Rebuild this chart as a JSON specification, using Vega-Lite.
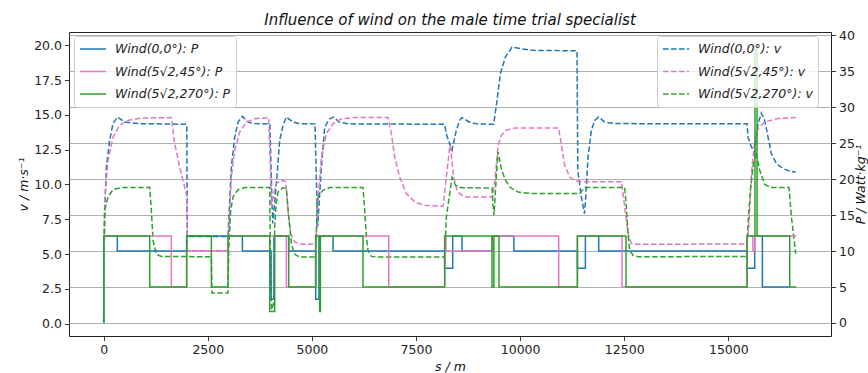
{
  "$schema": "https://vega.github.io/schema/vega-lite/v6.json",
  "width": 762,
  "height": 304,
  "autosize": {"type": "none"},
  "padding": {"left": 69, "top": 32, "right": 37, "bottom": 37},
  "background": "white",
  "title": {"text": "Influence of wind on the male time trial specialist", "font": "DejaVu Sans", "fontSize": 15, "fontStyle": "italic", "fontWeight": "normal", "color": "#111", "anchor": "middle", "frame": "group", "offset": 1},
  "config": {
    "view": {"stroke": "#222", "strokeWidth": 1},
    "axis": {"domain": false, "labelFont": "DejaVu Sans", "labelFontSize": 12.5, "labelColor": "#222", "tickColor": "#222", "tickSize": 4.5, "tickWidth": 0.9, "labelPadding": 3, "titleFont": "DejaVu Sans", "titleFontSize": 12.5, "titleFontStyle": "italic", "titleFontWeight": "normal", "titleColor": "#111"},
    "legend": {"labelFont": "DejaVu Sans", "labelFontSize": 12.5, "labelFontStyle": "italic", "labelColor": "#222", "symbolType": "stroke", "symbolSize": 676, "symbolStrokeWidth": 1.5, "fillColor": "rgba(255,255,255,0.8)", "strokeColor": "#cccccc", "cornerRadius": 3, "padding": 5, "clipHeight": 16, "rowPadding": 6.5, "labelOffset": 8, "orient": "none"}
  },
  "datasets": {
    "P": [
      {"s": 0, "P": 0.1, "w": "Wind(0,0°): P"}, {"s": 1, "P": 12.1, "w": "Wind(0,0°): P"}, {"s": 328, "P": 10, "w": "Wind(0,0°): P"}, {"s": 1993, "P": 12.1, "w": "Wind(0,0°): P"}, {"s": 3331, "P": 10, "w": "Wind(0,0°): P"}, {"s": 4020, "P": 3.3, "w": "Wind(0,0°): P"}, {"s": 4090, "P": 12.1, "w": "Wind(0,0°): P"}, {"s": 4443, "P": 10, "w": "Wind(0,0°): P"}, {"s": 5091, "P": 3.3, "w": "Wind(0,0°): P"}, {"s": 5170, "P": 12.1, "w": "Wind(0,0°): P"}, {"s": 5507, "P": 10, "w": "Wind(0,0°): P"}, {"s": 8189, "P": 7.6, "w": "Wind(0,0°): P"}, {"s": 8381, "P": 12.1, "w": "Wind(0,0°): P"}, {"s": 8605, "P": 10, "w": "Wind(0,0°): P"}, {"s": 9340, "P": 12.1, "w": "Wind(0,0°): P"}, {"s": 9850, "P": 10, "w": "Wind(0,0°): P"}, {"s": 11376, "P": 7.6, "w": "Wind(0,0°): P"}, {"s": 11568, "P": 12.1, "w": "Wind(0,0°): P"}, {"s": 11887, "P": 10, "w": "Wind(0,0°): P"}, {"s": 15450, "P": 7.6, "w": "Wind(0,0°): P"}, {"s": 15634, "P": 12.1, "w": "Wind(0,0°): P"}, {"s": 15818, "P": 5, "w": "Wind(0,0°): P"}, {"s": 16470, "P": 5, "w": "Wind(0,0°): P"},
      {"s": 0, "P": 0.1, "w": "Wind(5√2,45°): P"}, {"s": 1, "P": 12.1, "w": "Wind(5√2,45°): P"}, {"s": 1625, "P": 5, "w": "Wind(5√2,45°): P"}, {"s": 1993, "P": 10, "w": "Wind(5√2,45°): P"}, {"s": 2986, "P": 12.1, "w": "Wind(5√2,45°): P"}, {"s": 4387, "P": 5, "w": "Wind(5√2,45°): P"}, {"s": 5091, "P": 12.1, "w": "Wind(5√2,45°): P"}, {"s": 6845, "P": 5, "w": "Wind(5√2,45°): P"}, {"s": 8189, "P": 12.1, "w": "Wind(5√2,45°): P"}, {"s": 8220, "P": 10, "w": "Wind(5√2,45°): P"}, {"s": 9325, "P": 12.1, "w": "Wind(5√2,45°): P"}, {"s": 10927, "P": 5, "w": "Wind(5√2,45°): P"}, {"s": 11376, "P": 12.1, "w": "Wind(5√2,45°): P"}, {"s": 12447, "P": 5, "w": "Wind(5√2,45°): P"}, {"s": 15450, "P": 12.1, "w": "Wind(5√2,45°): P"}, {"s": 15590, "P": 10, "w": "Wind(5√2,45°): P"}, {"s": 15634, "P": 12.1, "w": "Wind(5√2,45°): P"}, {"s": 16635, "P": 12.1, "w": "Wind(5√2,45°): P"},
      {"s": 0, "P": 0.1, "w": "Wind(5√2,270°): P"}, {"s": 1, "P": 12.1, "w": "Wind(5√2,270°): P"}, {"s": 1105, "P": 5, "w": "Wind(5√2,270°): P"}, {"s": 1993, "P": 12.1, "w": "Wind(5√2,270°): P"}, {"s": 2586, "P": 5, "w": "Wind(5√2,270°): P"}, {"s": 2986, "P": 12.1, "w": "Wind(5√2,270°): P"}, {"s": 3987, "P": 1.6, "w": "Wind(5√2,270°): P"}, {"s": 4107, "P": 12.1, "w": "Wind(5√2,270°): P"}, {"s": 4443, "P": 5, "w": "Wind(5√2,270°): P"}, {"s": 5091, "P": 12.1, "w": "Wind(5√2,270°): P"}, {"s": 5187, "P": 1.6, "w": "Wind(5√2,270°): P"}, {"s": 5205, "P": 12.1, "w": "Wind(5√2,270°): P"}, {"s": 6228, "P": 5, "w": "Wind(5√2,270°): P"}, {"s": 8189, "P": 12.1, "w": "Wind(5√2,270°): P"}, {"s": 9325, "P": 5, "w": "Wind(5√2,270°): P"}, {"s": 9370, "P": 12.1, "w": "Wind(5√2,270°): P"}, {"s": 9494, "P": 5, "w": "Wind(5√2,270°): P"}, {"s": 11376, "P": 12.1, "w": "Wind(5√2,270°): P"}, {"s": 12543, "P": 5, "w": "Wind(5√2,270°): P"}, {"s": 15450, "P": 12.1, "w": "Wind(5√2,270°): P"}, {"s": 15640, "P": 38.5, "w": "Wind(5√2,270°): P"}, {"s": 15690, "P": 12.1, "w": "Wind(5√2,270°): P"}, {"s": 16475, "P": 5, "w": "Wind(5√2,270°): P"}, {"s": 16635, "P": 5, "w": "Wind(5√2,270°): P"}
    ],
    "v": [
      {"s": 0, "v": 0.1, "w": "Wind(0,0°): v"}, {"s": 8, "v": 5, "w": "Wind(0,0°): v"}, {"s": 25, "v": 8, "w": "Wind(0,0°): v"}, {"s": 64, "v": 11.25, "w": "Wind(0,0°): v"}, {"s": 144, "v": 13.2, "w": "Wind(0,0°): v"}, {"s": 224, "v": 14.37, "w": "Wind(0,0°): v"}, {"s": 328, "v": 14.84, "w": "Wind(0,0°): v"}, {"s": 504, "v": 14.48, "w": "Wind(0,0°): v"}, {"s": 824, "v": 14.37, "w": "Wind(0,0°): v"}, {"s": 1995, "v": 14.32, "w": "Wind(0,0°): v"}, {"s": 2008, "v": 6.25, "w": "Wind(0,0°): v"}, {"s": 2986, "v": 6.25, "w": "Wind(0,0°): v"}, {"s": 3026, "v": 8.86, "w": "Wind(0,0°): v"}, {"s": 3066, "v": 11.25, "w": "Wind(0,0°): v"}, {"s": 3146, "v": 13.4, "w": "Wind(0,0°): v"}, {"s": 3226, "v": 14.48, "w": "Wind(0,0°): v"}, {"s": 3331, "v": 14.89, "w": "Wind(0,0°): v"}, {"s": 3466, "v": 14.48, "w": "Wind(0,0°): v"}, {"s": 3626, "v": 14.37, "w": "Wind(0,0°): v"}, {"s": 3990, "v": 14.35, "w": "Wind(0,0°): v"}, {"s": 4030, "v": 10, "w": "Wind(0,0°): v"}, {"s": 4060, "v": 7.2, "w": "Wind(0,0°): v"}, {"s": 4100, "v": 8.5, "w": "Wind(0,0°): v"}, {"s": 4147, "v": 10.06, "w": "Wind(0,0°): v"}, {"s": 4227, "v": 13.17, "w": "Wind(0,0°): v"}, {"s": 4307, "v": 14.25, "w": "Wind(0,0°): v"}, {"s": 4387, "v": 14.84, "w": "Wind(0,0°): v"}, {"s": 4546, "v": 14.48, "w": "Wind(0,0°): v"}, {"s": 4700, "v": 14.37, "w": "Wind(0,0°): v"}, {"s": 5075, "v": 14.35, "w": "Wind(0,0°): v"}, {"s": 5110, "v": 10, "w": "Wind(0,0°): v"}, {"s": 5140, "v": 7, "w": "Wind(0,0°): v"}, {"s": 5180, "v": 9, "w": "Wind(0,0°): v"}, {"s": 5228, "v": 11.25, "w": "Wind(0,0°): v"}, {"s": 5307, "v": 14.1, "w": "Wind(0,0°): v"}, {"s": 5420, "v": 14.7, "w": "Wind(0,0°): v"}, {"s": 5520, "v": 14.84, "w": "Wind(0,0°): v"}, {"s": 5650, "v": 14.48, "w": "Wind(0,0°): v"}, {"s": 5900, "v": 14.35, "w": "Wind(0,0°): v"}, {"s": 8189, "v": 14.32, "w": "Wind(0,0°): v"}, {"s": 8229, "v": 13.6, "w": "Wind(0,0°): v"}, {"s": 8309, "v": 12.93, "w": "Wind(0,0°): v"}, {"s": 8365, "v": 12.45, "w": "Wind(0,0°): v"}, {"s": 8469, "v": 13.9, "w": "Wind(0,0°): v"}, {"s": 8549, "v": 14.6, "w": "Wind(0,0°): v"}, {"s": 8605, "v": 14.8, "w": "Wind(0,0°): v"}, {"s": 8800, "v": 14.45, "w": "Wind(0,0°): v"}, {"s": 8965, "v": 14.35, "w": "Wind(0,0°): v"}, {"s": 9366, "v": 14.32, "w": "Wind(0,0°): v"}, {"s": 9446, "v": 16.04, "w": "Wind(0,0°): v"}, {"s": 9527, "v": 17.96, "w": "Wind(0,0°): v"}, {"s": 9647, "v": 19.15, "w": "Wind(0,0°): v"}, {"s": 9806, "v": 19.87, "w": "Wind(0,0°): v"}, {"s": 10007, "v": 19.75, "w": "Wind(0,0°): v"}, {"s": 10327, "v": 19.63, "w": "Wind(0,0°): v"}, {"s": 11367, "v": 19.6, "w": "Wind(0,0°): v"}, {"s": 11385, "v": 11, "w": "Wind(0,0°): v"}, {"s": 11460, "v": 9.3, "w": "Wind(0,0°): v"}, {"s": 11545, "v": 7.9, "w": "Wind(0,0°): v"}, {"s": 11570, "v": 8.8, "w": "Wind(0,0°): v"}, {"s": 11632, "v": 11.97, "w": "Wind(0,0°): v"}, {"s": 11712, "v": 13.9, "w": "Wind(0,0°): v"}, {"s": 11792, "v": 14.6, "w": "Wind(0,0°): v"}, {"s": 11887, "v": 14.84, "w": "Wind(0,0°): v"}, {"s": 12032, "v": 14.48, "w": "Wind(0,0°): v"}, {"s": 12272, "v": 14.37, "w": "Wind(0,0°): v"}, {"s": 15450, "v": 14.35, "w": "Wind(0,0°): v"}, {"s": 15474, "v": 13.4, "w": "Wind(0,0°): v"}, {"s": 15554, "v": 12.69, "w": "Wind(0,0°): v"}, {"s": 15634, "v": 12.33, "w": "Wind(0,0°): v"}, {"s": 15714, "v": 14.37, "w": "Wind(0,0°): v"}, {"s": 15794, "v": 15.13, "w": "Wind(0,0°): v"}, {"s": 15874, "v": 14.6, "w": "Wind(0,0°): v"}, {"s": 15954, "v": 13.4, "w": "Wind(0,0°): v"}, {"s": 16035, "v": 12.2, "w": "Wind(0,0°): v"}, {"s": 16155, "v": 11.5, "w": "Wind(0,0°): v"}, {"s": 16314, "v": 11.13, "w": "Wind(0,0°): v"}, {"s": 16474, "v": 10.96, "w": "Wind(0,0°): v"}, {"s": 16619, "v": 10.89, "w": "Wind(0,0°): v"},
      {"s": 0, "v": 0.1, "w": "Wind(5√2,45°): v"}, {"s": 8, "v": 5, "w": "Wind(5√2,45°): v"}, {"s": 24, "v": 8.86, "w": "Wind(5√2,45°): v"}, {"s": 104, "v": 11.73, "w": "Wind(5√2,45°): v"}, {"s": 224, "v": 13.4, "w": "Wind(5√2,45°): v"}, {"s": 384, "v": 14.25, "w": "Wind(5√2,45°): v"}, {"s": 584, "v": 14.6, "w": "Wind(5√2,45°): v"}, {"s": 904, "v": 14.77, "w": "Wind(5√2,45°): v"}, {"s": 1625, "v": 14.8, "w": "Wind(5√2,45°): v"}, {"s": 1705, "v": 12.93, "w": "Wind(5√2,45°): v"}, {"s": 1825, "v": 11.25, "w": "Wind(5√2,45°): v"}, {"s": 1945, "v": 9.81, "w": "Wind(5√2,45°): v"}, {"s": 1993, "v": 9.2, "w": "Wind(5√2,45°): v"}, {"s": 2005, "v": 5.24, "w": "Wind(5√2,45°): v"}, {"s": 2986, "v": 5.24, "w": "Wind(5√2,45°): v"}, {"s": 3026, "v": 8.14, "w": "Wind(5√2,45°): v"}, {"s": 3066, "v": 10.53, "w": "Wind(5√2,45°): v"}, {"s": 3146, "v": 12.45, "w": "Wind(5√2,45°): v"}, {"s": 3266, "v": 13.76, "w": "Wind(5√2,45°): v"}, {"s": 3426, "v": 14.48, "w": "Wind(5√2,45°): v"}, {"s": 3626, "v": 14.72, "w": "Wind(5√2,45°): v"}, {"s": 3962, "v": 14.8, "w": "Wind(5√2,45°): v"}, {"s": 3995, "v": 12, "w": "Wind(5√2,45°): v"}, {"s": 4030, "v": 8.3, "w": "Wind(5√2,45°): v"}, {"s": 4080, "v": 9.3, "w": "Wind(5√2,45°): v"}, {"s": 4147, "v": 10.06, "w": "Wind(5√2,45°): v"}, {"s": 4250, "v": 10.3, "w": "Wind(5√2,45°): v"}, {"s": 4370, "v": 10.2, "w": "Wind(5√2,45°): v"}, {"s": 4427, "v": 8.14, "w": "Wind(5√2,45°): v"}, {"s": 4491, "v": 6.47, "w": "Wind(5√2,45°): v"}, {"s": 4587, "v": 5.86, "w": "Wind(5√2,45°): v"}, {"s": 4747, "v": 5.7, "w": "Wind(5√2,45°): v"}, {"s": 5091, "v": 5.7, "w": "Wind(5√2,45°): v"}, {"s": 5147, "v": 8.86, "w": "Wind(5√2,45°): v"}, {"s": 5228, "v": 11.97, "w": "Wind(5√2,45°): v"}, {"s": 5348, "v": 13.65, "w": "Wind(5√2,45°): v"}, {"s": 5507, "v": 14.37, "w": "Wind(5√2,45°): v"}, {"s": 5700, "v": 14.7, "w": "Wind(5√2,45°): v"}, {"s": 6000, "v": 14.8, "w": "Wind(5√2,45°): v"}, {"s": 6828, "v": 14.8, "w": "Wind(5√2,45°): v"}, {"s": 6908, "v": 13.65, "w": "Wind(5√2,45°): v"}, {"s": 6988, "v": 11.97, "w": "Wind(5√2,45°): v"}, {"s": 7108, "v": 10.53, "w": "Wind(5√2,45°): v"}, {"s": 7269, "v": 9.34, "w": "Wind(5√2,45°): v"}, {"s": 7469, "v": 8.74, "w": "Wind(5√2,45°): v"}, {"s": 7709, "v": 8.5, "w": "Wind(5√2,45°): v"}, {"s": 8149, "v": 8.43, "w": "Wind(5√2,45°): v"}, {"s": 8229, "v": 10.53, "w": "Wind(5√2,45°): v"}, {"s": 8309, "v": 12.69, "w": "Wind(5√2,45°): v"}, {"s": 8326, "v": 12.8, "w": "Wind(5√2,45°): v"}, {"s": 8405, "v": 10.53, "w": "Wind(5√2,45°): v"}, {"s": 8485, "v": 9.58, "w": "Wind(5√2,45°): v"}, {"s": 8549, "v": 9.34, "w": "Wind(5√2,45°): v"}, {"s": 8670, "v": 9.1, "w": "Wind(5√2,45°): v"}, {"s": 9342, "v": 9.1, "w": "Wind(5√2,45°): v"}, {"s": 9407, "v": 10.65, "w": "Wind(5√2,45°): v"}, {"s": 9470, "v": 12.8, "w": "Wind(5√2,45°): v"}, {"s": 9550, "v": 13.53, "w": "Wind(5√2,45°): v"}, {"s": 9670, "v": 13.9, "w": "Wind(5√2,45°): v"}, {"s": 9870, "v": 14.05, "w": "Wind(5√2,45°): v"}, {"s": 10927, "v": 14.05, "w": "Wind(5√2,45°): v"}, {"s": 10991, "v": 12.8, "w": "Wind(5√2,45°): v"}, {"s": 11071, "v": 11.37, "w": "Wind(5√2,45°): v"}, {"s": 11191, "v": 10.53, "w": "Wind(5√2,45°): v"}, {"s": 11352, "v": 10.22, "w": "Wind(5√2,45°): v"}, {"s": 11500, "v": 10.2, "w": "Wind(5√2,45°): v"}, {"s": 12432, "v": 10.2, "w": "Wind(5√2,45°): v"}, {"s": 12512, "v": 8.38, "w": "Wind(5√2,45°): v"}, {"s": 12592, "v": 6.47, "w": "Wind(5√2,45°): v"}, {"s": 12672, "v": 5.75, "w": "Wind(5√2,45°): v"}, {"s": 12800, "v": 5.7, "w": "Wind(5√2,45°): v"}, {"s": 15450, "v": 5.72, "w": "Wind(5√2,45°): v"}, {"s": 15498, "v": 7.18, "w": "Wind(5√2,45°): v"}, {"s": 15554, "v": 10.78, "w": "Wind(5√2,45°): v"}, {"s": 15634, "v": 13.17, "w": "Wind(5√2,45°): v"}, {"s": 15714, "v": 14.0, "w": "Wind(5√2,45°): v"}, {"s": 15874, "v": 14.48, "w": "Wind(5√2,45°): v"}, {"s": 16155, "v": 14.72, "w": "Wind(5√2,45°): v"}, {"s": 16619, "v": 14.8, "w": "Wind(5√2,45°): v"},
      {"s": 0, "v": 0.1, "w": "Wind(5√2,270°): v"}, {"s": 8, "v": 4, "w": "Wind(5√2,270°): v"}, {"s": 24, "v": 8.14, "w": "Wind(5√2,270°): v"}, {"s": 104, "v": 9.1, "w": "Wind(5√2,270°): v"}, {"s": 224, "v": 9.63, "w": "Wind(5√2,270°): v"}, {"s": 424, "v": 9.77, "w": "Wind(5√2,270°): v"}, {"s": 1105, "v": 9.79, "w": "Wind(5√2,270°): v"}, {"s": 1145, "v": 8.14, "w": "Wind(5√2,270°): v"}, {"s": 1185, "v": 5.98, "w": "Wind(5√2,270°): v"}, {"s": 1265, "v": 4.98, "w": "Wind(5√2,270°): v"}, {"s": 1385, "v": 4.83, "w": "Wind(5√2,270°): v"}, {"s": 2586, "v": 4.8, "w": "Wind(5√2,270°): v"}, {"s": 2600, "v": 2.2, "w": "Wind(5√2,270°): v"}, {"s": 2986, "v": 2.2, "w": "Wind(5√2,270°): v"}, {"s": 3002, "v": 5.27, "w": "Wind(5√2,270°): v"}, {"s": 3050, "v": 8.14, "w": "Wind(5√2,270°): v"}, {"s": 3106, "v": 9.1, "w": "Wind(5√2,270°): v"}, {"s": 3226, "v": 9.63, "w": "Wind(5√2,270°): v"}, {"s": 3386, "v": 9.77, "w": "Wind(5√2,270°): v"}, {"s": 3987, "v": 9.77, "w": "Wind(5√2,270°): v"}, {"s": 4005, "v": 4, "w": "Wind(5√2,270°): v"}, {"s": 4030, "v": 1.0, "w": "Wind(5√2,270°): v"}, {"s": 4085, "v": 1.5, "w": "Wind(5√2,270°): v"}, {"s": 4107, "v": 7, "w": "Wind(5√2,270°): v"}, {"s": 4140, "v": 8.6, "w": "Wind(5√2,270°): v"}, {"s": 4186, "v": 9.45, "w": "Wind(5√2,270°): v"}, {"s": 4307, "v": 9.77, "w": "Wind(5√2,270°): v"}, {"s": 4387, "v": 9.7, "w": "Wind(5√2,270°): v"}, {"s": 4443, "v": 7.66, "w": "Wind(5√2,270°): v"}, {"s": 4507, "v": 5.75, "w": "Wind(5√2,270°): v"}, {"s": 4587, "v": 4.98, "w": "Wind(5√2,270°): v"}, {"s": 4707, "v": 4.78, "w": "Wind(5√2,270°): v"}, {"s": 5091, "v": 4.78, "w": "Wind(5√2,270°): v"}, {"s": 5131, "v": 8.86, "w": "Wind(5√2,270°): v"}, {"s": 5163, "v": 9.22, "w": "Wind(5√2,270°): v"}, {"s": 5267, "v": 9.58, "w": "Wind(5√2,270°): v"}, {"s": 5427, "v": 9.77, "w": "Wind(5√2,270°): v"}, {"s": 6228, "v": 9.77, "w": "Wind(5√2,270°): v"}, {"s": 6268, "v": 8.14, "w": "Wind(5√2,270°): v"}, {"s": 6308, "v": 6.22, "w": "Wind(5√2,270°): v"}, {"s": 6348, "v": 5.27, "w": "Wind(5√2,270°): v"}, {"s": 6428, "v": 4.83, "w": "Wind(5√2,270°): v"}, {"s": 6600, "v": 4.78, "w": "Wind(5√2,270°): v"}, {"s": 8189, "v": 4.78, "w": "Wind(5√2,270°): v"}, {"s": 8229, "v": 7.66, "w": "Wind(5√2,270°): v"}, {"s": 8309, "v": 9.34, "w": "Wind(5√2,270°): v"}, {"s": 8365, "v": 10.5, "w": "Wind(5√2,270°): v"}, {"s": 8445, "v": 9.94, "w": "Wind(5√2,270°): v"}, {"s": 8565, "v": 9.77, "w": "Wind(5√2,270°): v"}, {"s": 9325, "v": 9.74, "w": "Wind(5√2,270°): v"}, {"s": 9350, "v": 8.5, "w": "Wind(5√2,270°): v"}, {"s": 9373, "v": 7.78, "w": "Wind(5√2,270°): v"}, {"s": 9430, "v": 10.65, "w": "Wind(5√2,270°): v"}, {"s": 9470, "v": 12.33, "w": "Wind(5√2,270°): v"}, {"s": 9550, "v": 11.13, "w": "Wind(5√2,270°): v"}, {"s": 9630, "v": 10.42, "w": "Wind(5√2,270°): v"}, {"s": 9750, "v": 9.81, "w": "Wind(5√2,270°): v"}, {"s": 9950, "v": 9.45, "w": "Wind(5√2,270°): v"}, {"s": 10271, "v": 9.34, "w": "Wind(5√2,270°): v"}, {"s": 11431, "v": 9.34, "w": "Wind(5√2,270°): v"}, {"s": 11500, "v": 9.6, "w": "Wind(5√2,270°): v"}, {"s": 11560, "v": 9.77, "w": "Wind(5√2,270°): v"}, {"s": 12512, "v": 9.77, "w": "Wind(5√2,270°): v"}, {"s": 12552, "v": 8.38, "w": "Wind(5√2,270°): v"}, {"s": 12592, "v": 6.47, "w": "Wind(5√2,270°): v"}, {"s": 12632, "v": 5.27, "w": "Wind(5√2,270°): v"}, {"s": 12712, "v": 4.91, "w": "Wind(5√2,270°): v"}, {"s": 12850, "v": 4.8, "w": "Wind(5√2,270°): v"}, {"s": 15434, "v": 4.83, "w": "Wind(5√2,270°): v"}, {"s": 15474, "v": 7.18, "w": "Wind(5√2,270°): v"}, {"s": 15530, "v": 9.58, "w": "Wind(5√2,270°): v"}, {"s": 15594, "v": 11.25, "w": "Wind(5√2,270°): v"}, {"s": 15658, "v": 12.33, "w": "Wind(5√2,270°): v"}, {"s": 15754, "v": 11.01, "w": "Wind(5√2,270°): v"}, {"s": 15874, "v": 10.0, "w": "Wind(5√2,270°): v"}, {"s": 16035, "v": 9.77, "w": "Wind(5√2,270°): v"}, {"s": 16458, "v": 9.77, "w": "Wind(5√2,270°): v"}, {"s": 16515, "v": 7.66, "w": "Wind(5√2,270°): v"}, {"s": 16619, "v": 5.03, "w": "Wind(5√2,270°): v"}
    ]
  },
  "layer": [
    {
      "data": {"name": "v"},
      "mark": {"type": "line", "strokeWidth": 1.5, "strokeDash": [5.5, 2.5], "clip": true},
      "encoding": {
        "x": {"field": "s", "type": "quantitative", "scale": {"domain": [-833, 17466], "nice": false, "zero": false}, "axis": {"title": "s / m", "values": [0, 2500, 5000, 7500, 10000, 12500, 15000], "format": "d", "grid": false, "titlePadding": 4}},
        "y": {"field": "v", "type": "quantitative", "scale": {"domain": [-0.89, 20.95], "nice": false, "zero": false}, "axis": {"orient": "left", "title": "v / m·s⁻¹", "values": [0, 2.5, 5, 7.5, 10, 12.5, 15, 17.5, 20], "format": ".1f", "grid": false, "titlePadding": 3}},
        "color": {"field": "w", "type": "nominal", "scale": {"domain": ["Wind(0,0°): v", "Wind(5√2,45°): v", "Wind(5√2,270°): v"], "range": ["#1f77b4", "#e377c2", "#2ca02c"]}, "legend": {"title": null, "legendX": 588, "legendY": 4, "symbolDash": [5.5, 2.5]}}
      }
    },
    {
      "data": {"name": "P"},
      "mark": {"type": "line", "strokeWidth": 1.5, "interpolate": "step-after", "clip": true},
      "encoding": {
        "x": {"field": "s", "type": "quantitative"},
        "y": {"field": "P", "type": "quantitative", "scale": {"domain": [-1.81, 40.47], "nice": false, "zero": false}, "axis": {"orient": "right", "title": "P / Watt·kg⁻¹", "titleAngle": 270, "values": [0, 5, 10, 15, 20, 25, 30, 35, 40], "format": "d", "grid": true, "gridColor": "#b0b0b0", "gridWidth": 1, "titlePadding": 13}},
        "color": {"field": "w", "type": "nominal", "scale": {"domain": ["Wind(0,0°): P", "Wind(5√2,45°): P", "Wind(5√2,270°): P"], "range": ["#1f77b4", "#e377c2", "#2ca02c"]}, "legend": {"title": null, "legendX": 5, "legendY": 4}}
      }
    }
  ],
  "resolve": {"scale": {"y": "independent", "color": "independent"}}
}
